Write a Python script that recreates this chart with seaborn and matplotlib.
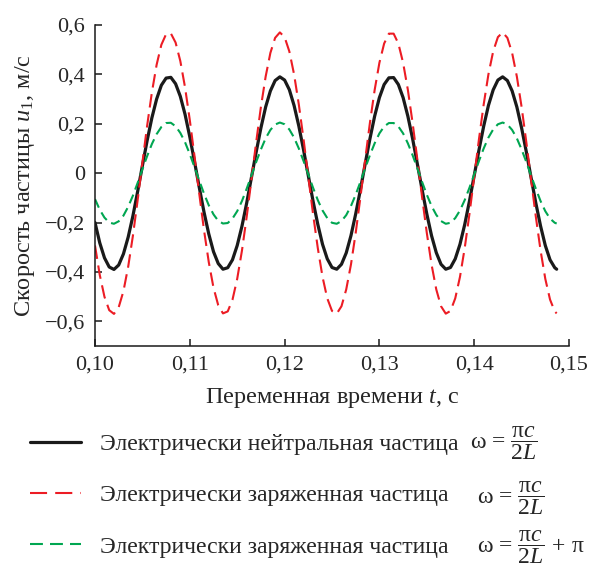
import numpy as np
import pandas as pd
import matplotlib
matplotlib.use("Agg")
import matplotlib.pyplot as plt
from matplotlib.lines import Line2D
import seaborn as sns

# ---------------- data ----------------
time_s = [
    0.1000, 0.1005, 0.1010, 0.1015, 0.1020, 0.1025, 0.1030, 0.1035, 0.1040, 0.1045,
    0.1050, 0.1055, 0.1060, 0.1065, 0.1070, 0.1075, 0.1080, 0.1085, 0.1090, 0.1095,
    0.1100, 0.1105, 0.1110, 0.1115, 0.1120, 0.1125, 0.1130, 0.1135, 0.1140, 0.1145,
    0.1150, 0.1155, 0.1160, 0.1165, 0.1170, 0.1175, 0.1180, 0.1185, 0.1190, 0.1195,
    0.1200, 0.1205, 0.1210, 0.1215, 0.1220, 0.1225, 0.1230, 0.1235, 0.1240, 0.1245,
    0.1250, 0.1255, 0.1260, 0.1265, 0.1270, 0.1275, 0.1280, 0.1285, 0.1290, 0.1295,
    0.1300, 0.1305, 0.1310, 0.1315, 0.1320, 0.1325, 0.1330, 0.1335, 0.1340, 0.1345,
    0.1350, 0.1355, 0.1360, 0.1365, 0.1370, 0.1375, 0.1380, 0.1385, 0.1390, 0.1395,
    0.1400, 0.1405, 0.1410, 0.1415, 0.1420, 0.1425, 0.1430, 0.1435, 0.1440, 0.1445,
    0.1450, 0.1455, 0.1460, 0.1465, 0.1470, 0.1475, 0.1480, 0.1485, 0.1487,
]

neutral = [
    -0.200, -0.282, -0.343, -0.380, -0.390, -0.372, -0.327, -0.259, -0.173, -0.074,
    0.030, 0.132, 0.224, 0.300, 0.356, 0.385, 0.388, 0.362, 0.311, 0.238,
    0.147, 0.046, -0.058, -0.158, -0.246, -0.318, -0.366, -0.389, -0.383, -0.351,
    -0.293, -0.215, -0.121, -0.018, 0.085, 0.183, 0.268, 0.333, 0.375, 0.390,
    0.377, 0.338, 0.274, 0.191, 0.094, -0.010, -0.113, -0.207, -0.288, -0.347,
    -0.382, -0.389, -0.369, -0.323, -0.253, -0.165, -0.066, 0.038, 0.139, 0.231,
    0.306, 0.359, 0.386, 0.387, 0.359, 0.306, 0.231, 0.140, 0.038, -0.066,
    -0.165, -0.253, -0.322, -0.369, -0.389, -0.382, -0.347, -0.288, -0.208, -0.113,
    -0.010, 0.093, 0.190, 0.274, 0.337, 0.377, 0.390, 0.375, 0.333, 0.268,
    0.183, 0.086, -0.018, -0.121, -0.214, -0.293, -0.351, -0.383, -0.389,
]

charged = [
    -0.293, -0.412, -0.501, -0.555, -0.570, -0.543, -0.478, -0.379, -0.253, -0.109,
    0.043, 0.192, 0.327, 0.439, 0.520, 0.563, 0.566, 0.529, 0.454, 0.347,
    0.215, 0.068, -0.084, -0.231, -0.360, -0.464, -0.535, -0.568, -0.560, -0.513,
    -0.428, -0.314, -0.177, -0.027, 0.125, 0.268, 0.391, 0.487, 0.548, 0.570,
    0.551, 0.493, 0.400, 0.278, 0.137, -0.014, -0.165, -0.303, -0.420, -0.507,
    -0.558, -0.569, -0.539, -0.471, -0.370, -0.242, -0.097, 0.055, 0.204, 0.337,
    0.447, 0.525, 0.565, 0.565, 0.525, 0.447, 0.338, 0.204, 0.056, -0.096,
    -0.242, -0.370, -0.471, -0.539, -0.569, -0.558, -0.507, -0.420, -0.303, -0.165,
    -0.015, 0.137, 0.278, 0.400, 0.493, 0.551, 0.570, 0.548, 0.487, 0.391,
    0.268, 0.125, -0.026, -0.176, -0.313, -0.428, -0.512, -0.560, -0.568,
]

charged_shift = [
    -0.105, -0.148, -0.180, -0.200, -0.205, -0.195, -0.172, -0.136, -0.091, -0.039,
    0.016, 0.069, 0.118, 0.158, 0.187, 0.203, 0.204, 0.190, 0.163, 0.125,
    0.077, 0.024, -0.030, -0.083, -0.130, -0.167, -0.193, -0.204, -0.202, -0.184,
    -0.154, -0.113, -0.063, -0.010, 0.045, 0.096, 0.141, 0.175, 0.197, 0.205,
    0.198, 0.177, 0.144, 0.100, 0.049, -0.005, -0.059, -0.109, -0.151, -0.182,
    -0.201, -0.205, -0.194, -0.170, -0.133, -0.087, -0.035, 0.020, 0.073, 0.121,
    0.161, 0.189, 0.203, 0.203, 0.189, 0.161, 0.121, 0.073, 0.020, -0.035,
    -0.087, -0.133, -0.169, -0.194, -0.205, -0.201, -0.182, -0.151, -0.109, -0.059,
    -0.005, 0.049, 0.100, 0.144, 0.177, 0.198, 0.205, 0.197, 0.175, 0.141,
    0.096, 0.045, -0.010, -0.063, -0.113, -0.154, -0.184, -0.201, -0.204,
]

series_labels = [
    "Электрически нейтральная частица",
    "Электрически заряженная частица",
    "Электрически заряженная частица",
]
formula_labels = [
    r"ω = $\dfrac{\mathrm{\pi} c}{2L}$",
    r"ω = $\dfrac{\mathrm{\pi} c}{2L}$",
    r"ω = $\dfrac{\mathrm{\pi} c}{2L}$ + π",
]

x_ticks = [0.10, 0.11, 0.12, 0.13, 0.14, 0.15]
x_tick_labels = ["0,10", "0,11", "0,12", "0,13", "0,14", "0,15"]
y_ticks = [-0.6, -0.4, -0.2, 0.0, 0.2, 0.4, 0.6]
y_tick_labels = ["\u22120,6", "\u22120,4", "\u22120,2", "0", "0,2", "0,4", "0,6"]

x_label = "Переменная времени $t$, с"
y_label = "Скорость частицы $u_1$, м/с"

# ---------------- style ----------------
sns.set_style("ticks")
plt.rcParams["font.family"] = ["Liberation Serif", "DejaVu Serif"]
plt.rcParams["mathtext.fontset"] = "custom"
plt.rcParams["mathtext.rm"] = "Liberation Serif"
plt.rcParams["mathtext.it"] = "Liberation Serif:italic"
plt.rcParams["mathtext.bf"] = "Liberation Serif:bold"

FS = 16
AFS = 17.5
LFS = 17.1
colors = ["#1a1a1a", "#ec1c24", "#00a651"]
widths = [2.3, 1.5, 1.5]
styles = ["-", (0, (6.5, 3.2)), (0, (4.5, 2.6))]
legend_styles = ["-", (0, (8.2, 3.9)), (0, (6.2, 3.4))]

fig = plt.figure(figsize=(5.9, 5.67), dpi=100)
ax = fig.add_axes([95 / 590, 1 - 346 / 567, (569 - 95) / 590, (346 - 25) / 567])

series = [neutral, charged, charged_shift]
for vals, lab, c, lw, ls in zip(series, series_labels, colors, widths, styles):
    df = pd.DataFrame({"t": time_s, "u": vals})
    sns.lineplot(data=df, x="t", y="u", ax=ax, color=c, linewidth=lw,
                 linestyle=ls, legend=False)

ax.set_xlim(0.10, 0.15)
ax.set_ylim(-0.7, 0.6)
ax.set_xticks(x_ticks)
ax.set_xticklabels(x_tick_labels, fontsize=FS)
ax.set_yticks(y_ticks)
ax.set_yticklabels(y_tick_labels, fontsize=FS)
ax.tick_params(direction="in", length=5, width=1.1, color="#1a1a1a", pad=7)
ax.set_xlabel(x_label, fontsize=AFS, labelpad=8)
ax.set_ylabel(y_label, fontsize=AFS, labelpad=6)
for side in ["top", "right"]:
    ax.spines[side].set_visible(False)
for side in ["left", "bottom"]:
    ax.spines[side].set_linewidth(1.1)
    ax.spines[side].set_color("#1a1a1a")

proxies = [Line2D([], [], color=c, linewidth=lw, linestyle=ls)
           for c, lw, ls in zip(colors, widths, legend_styles)]
leg = fig.legend(proxies, series_labels, loc="upper left",
                 bbox_to_anchor=(20 / 590, 1 - 424 / 567),
                 frameon=False, fontsize=LFS, handlelength=2.15,
                 handletextpad=0.8, labelspacing=1.25, borderaxespad=0)

row_y = [443, 498, 547]
row_x = [470, 477, 477]
for fx, fy, txt in zip(row_x, row_y, formula_labels):
    fig.text(fx / 590, 1 - fy / 567, txt, fontsize=LFS,
             ha="left", va="center")

fig.savefig("out.png", dpi=100)
